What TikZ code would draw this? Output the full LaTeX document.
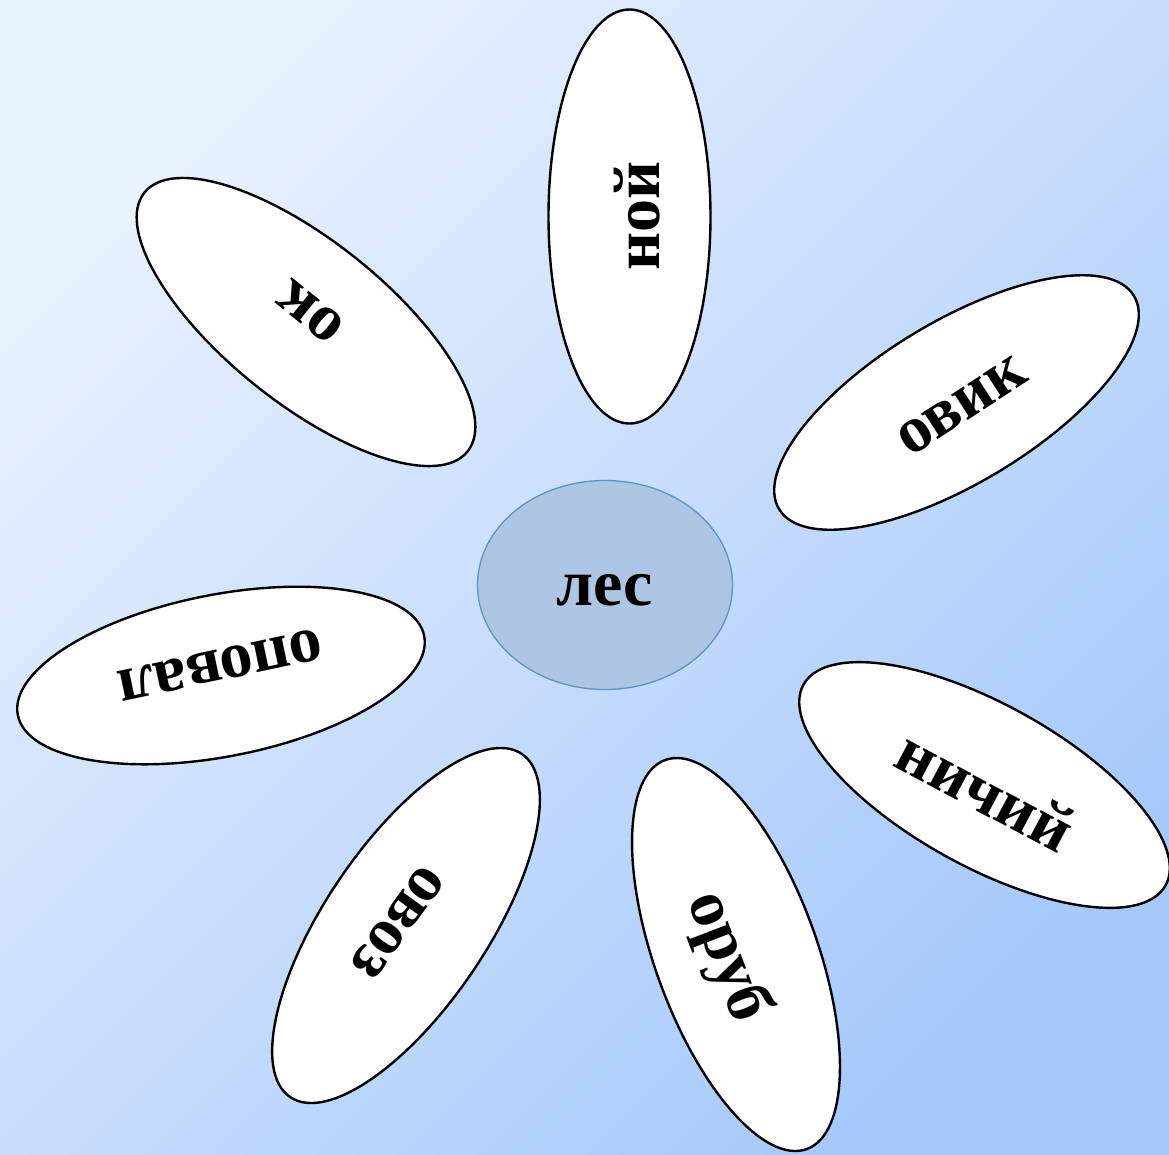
\documentclass[tikz,border=0pt]{standalone}
\usepackage{fontspec}
\setmainfont{Liberation Serif}
\usetikzlibrary{shapes.geometric}
\definecolor{bgA}{HTML}{E8F1FE}
\definecolor{bgM}{HTML}{BFD8FC}
\definecolor{bgB}{HTML}{A6C9FA}
\definecolor{coreFill}{HTML}{ADC6E4}
\definecolor{coreLine}{HTML}{5F92C6}
\tikzset{
  petal/.style={ellipse, draw=black, line width=2.4pt, fill=white, inner sep=0pt,
    minimum width=414pt, minimum height=162pt},
  word/.style={font=\fontsize{66}{78}\selectfont\bfseries, inner sep=0pt},
  core/.style={ellipse, draw=coreLine, line width=1.3pt, fill=coreFill, inner sep=0pt,
    minimum width=255pt, minimum height=209pt}
}
\begin{document}
\begin{tikzpicture}[x=1pt,y=-1pt]
\useasboundingbox (0,0) rectangle (1169,1154);
\shade[top color=bgA, middle color=bgM, bottom color=bgB, shading angle=45] (0,0) rectangle (1169,1154);
% petals
\node[petal, rotate=90]    (p1) at (629.5,216.5) {};
\node[petal, rotate=-38.7] (p2) at (306,322) {};
\node[petal, rotate=31]    (p3) at (956.5,402.5) {};
\node[petal, rotate=11]    (p4) at (221,675.5) {};
\node[petal, rotate=-29]   (p5) at (984.5,785) {};
\node[petal, rotate=56]    (p6) at (406,925.5) {};
\node[petal, rotate=-70]   (p7) at (736,954.5) {};
% words
\node[word, rotate=90]   (w1) at (637,216) {ной};
\node[word, rotate=141]  (w2) at (310,312) {ок};
\node[word, rotate=33]   (w3) at (962,406) {овик};
\node[word, rotate=192]  (w4) at (220,665) {оповал};
\node[word, rotate=-28]  (w5) at (986,790) {ничий};
\node[word, rotate=234]  (w6) at (398,922) {овоз};
\node[word, rotate=-69]  (w7) at (727,957) {оруб};
% center
\node[core] (c) at (605,585) {};
\node[word] (cw) at (605,590) {лес};
\end{tikzpicture}
\end{document}
